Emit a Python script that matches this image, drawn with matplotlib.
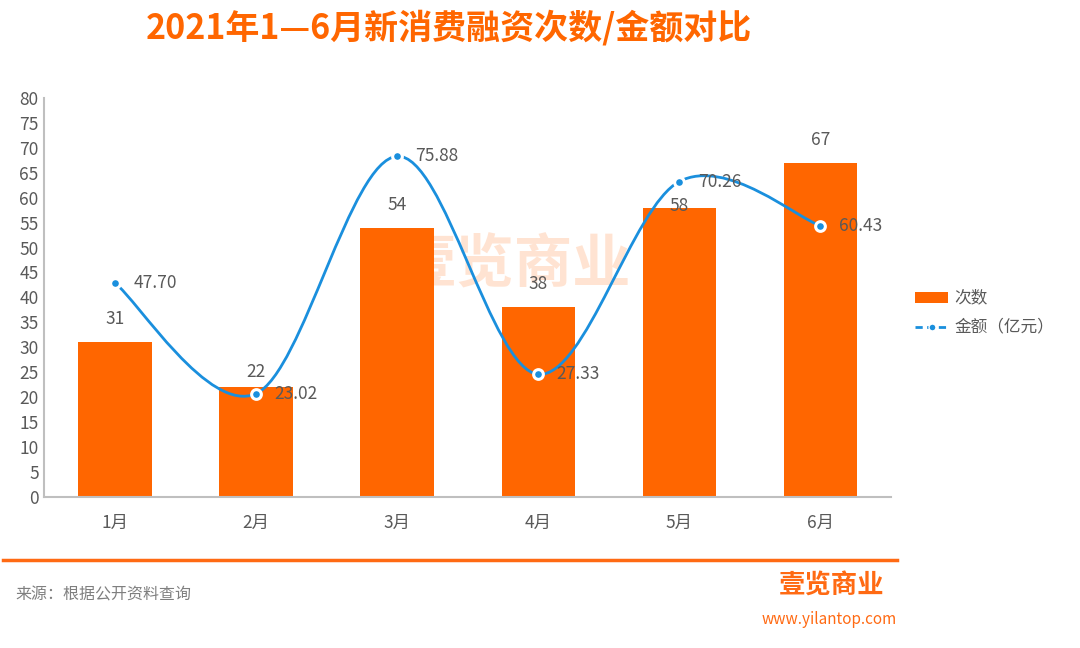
"""2021年1—6月新消费融资次数/金额对比."""

import matplotlib

matplotlib.use("Agg")
import matplotlib.pyplot as plt
from matplotlib.lines import Line2D
from matplotlib.patches import PathPatch, Rectangle
from matplotlib.path import Path
import numpy as np

plt.rcParams["font.family"] = ["Noto Sans CJK SC", "DejaVu Sans"]

months = ["1月", "2月", "3月", "4月", "5月", "6月"]
counts = [31, 22, 54, 38, 58, 67]
amounts = [47.70, 23.02, 75.88, 27.33, 70.26, 60.43]

ORANGE = "#FF6600"
BLUE = "#1A8FDD"
GRAY = "#595959"


def smooth_path(x, y, tension=1 / 6):
    """Bezier path through every point (Catmull-Rom style, like Excel smoothing)."""
    pts = np.column_stack([x, y])
    verts = [pts[0]]
    codes = [Path.MOVETO]
    n = len(pts)
    for i in range(n - 1):
        p0 = pts[max(i - 1, 0)]
        p1 = pts[i]
        p2 = pts[i + 1]
        p3 = pts[min(i + 2, n - 1)]
        c1 = p1 + (p2 - p0) * tension
        c2 = p2 - (p3 - p1) * tension
        verts += [c1, c2, p2]
        codes += [Path.CURVE4] * 3
    return Path(verts, codes)


fig = plt.figure(figsize=(10.8, 6.48), dpi=100)
ax = fig.add_axes([0.041, 0.233, 0.784, 0.616])
x = np.arange(len(months))

ax.bar(x, counts, width=0.52, color=ORANGE, zorder=2)
# labels pushed down where they would sit on the line markers
label_gap = {1: 3.0, 4: 0.4}
for xi, c in zip(x, counts):
    ax.text(xi, c + label_gap.get(xi, 4.6), str(c), ha="center", va="center",
            fontsize=12.5, color=GRAY, zorder=5)

ax.set_xlim(-0.5, len(months) - 0.5)
ax.set_ylim(0, 80)
ax.set_yticks(range(0, 81, 5))
ax.set_xticks(x)
ax.set_xticklabels(months)
ax.tick_params(length=0, labelsize=12.5, colors=GRAY)
ax.tick_params(axis="x", pad=12)
ax.tick_params(axis="y", pad=4)
for side in ("top", "right"):
    ax.spines[side].set_visible(False)
for side in ("left", "bottom"):
    ax.spines[side].set_color("#BFBFBF")
    ax.spines[side].set_linewidth(1.5)

# hidden secondary axis for amounts
ax2 = ax.twinx()
ax2.set_ylim(0, 88.9)
ax2.axis("off")
ax2.add_patch(
    PathPatch(smooth_path(x, amounts), facecolor="none", edgecolor=BLUE,
              lw=2, zorder=3)
)
ax2.plot(x, amounts, "o", color=BLUE, markersize=7, markeredgecolor="white",
         markeredgewidth=2.2, zorder=4)
for xi, a in zip(x, amounts):
    ax2.text(xi + 0.13, a, f"{a:.2f}", ha="left", va="center", fontsize=12.5,
             color=GRAY, zorder=5)

# watermark
ax.text(0.555, 0.58, "壹览商业", transform=ax.transAxes, ha="center",
        va="center", fontsize=42, fontweight="bold", color="#FFC9A6",
        alpha=0.5, zorder=1)

# legend drawn by hand
fig.add_artist(Rectangle((0.847, 0.532), 0.031, 0.017, transform=fig.transFigure,
                         facecolor=ORANGE, edgecolor="none"))
fig.text(0.884, 0.541, "次数", ha="left", va="center", fontsize=12, color=GRAY)
fig.add_artist(Line2D([0.847, 0.878], [0.495, 0.495], transform=fig.transFigure,
                      color=BLUE, lw=2, ls=(0, (2.6, 1.6))))
fig.add_artist(Line2D([0.8625], [0.495], transform=fig.transFigure, color=BLUE,
                      marker="o", markersize=5, markeredgecolor="white",
                      markeredgewidth=1))
fig.text(0.884, 0.495, "金额（亿元）", ha="left", va="center", fontsize=12,
         color=GRAY)

fig.text(0.416, 0.957, "2021年1—6月新消费融资次数/金额对比", ha="center",
         va="center", fontsize=24.5, fontweight="bold", color=ORANGE)

fig.add_artist(Line2D([0.003, 0.831], [0.136, 0.136], transform=fig.transFigure,
                      color="#FF6A13", lw=2.5))
fig.text(0.014, 0.082, "来源：根据公开资料查询", ha="left", va="center",
         fontsize=11.5, color="#7F7F7F")
fig.text(0.77, 0.095, "壹览商业", ha="center", va="center", fontsize=19,
         fontweight="bold", color="#FF6A13")
fig.text(0.768, 0.044, "www.yilantop.com", ha="center", va="center",
         fontsize=11, color="#FF6A13")

fig.savefig("out.png", dpi=100)
